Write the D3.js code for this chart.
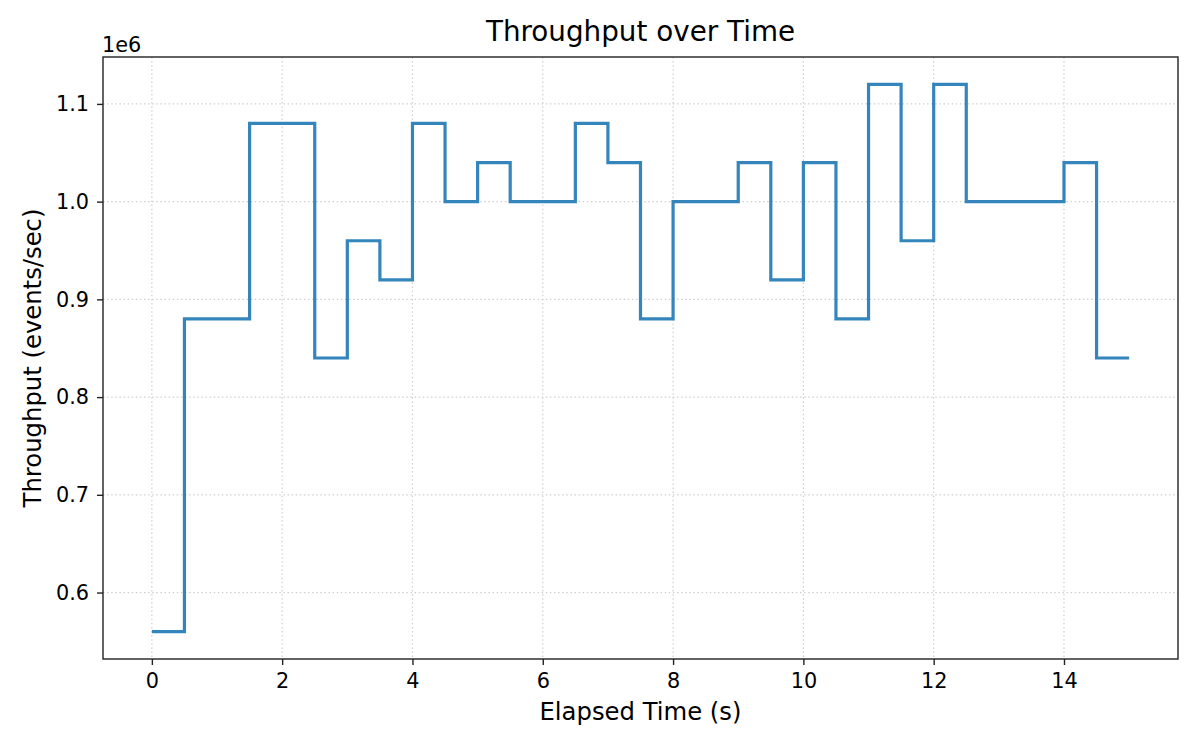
<!DOCTYPE html>
<html>
<head>
<meta charset="utf-8">
<script src="https://cdn.jsdelivr.net/npm/d3@7"></script>
<style>
  html, body { margin: 0; padding: 0; background: #fff; }
  svg text { font-family: "DejaVu Sans", sans-serif; fill: #000; }
</style>
</head>
<body>
<svg id="chart" width="1200" height="750"></svg>
<script>
// ---- data ----
const times = [0, 0.5, 1, 1.5, 2, 2.5, 3, 3.5, 4, 4.5, 5, 5.5, 6, 6.5, 7, 7.5,
               8, 8.5, 9, 9.5, 10, 10.5, 11, 11.5, 12, 12.5, 13, 13.5, 14, 14.5, 15];
const throughput = [560000, 880000, 880000, 1080000, 1080000, 840000, 960000, 920000,
                    1080000, 1000000, 1040000, 1000000, 1000000, 1080000, 1040000, 880000,
                    1000000, 1000000, 1040000, 920000, 1040000, 880000, 1120000, 960000,
                    1120000, 1000000, 1000000, 1000000, 1040000, 840000, 840000];
const xTicks = [0, 2, 4, 6, 8, 10, 12, 14];
const yTicks = [600000, 700000, 800000, 900000, 1000000, 1100000];
const titleText = "Throughput over Time";
const xLabel = "Elapsed Time (s)";
const yLabel = "Throughput (events/sec)";
const offsetText = "1e6";

// ---- layout ----
const pL = 103, pR = 1178, pT = 57, pB = 659;
const svg = d3.select("#chart");

const x = d3.scaleLinear().domain([-0.75, 15.75]).range([pL, pR]);
const y = d3.scaleLinear().domain([532000, 1148000]).range([pB, pT]);

// grid
const grid = svg.append("g");
grid.selectAll("line.gx").data(xTicks).join("line")
  .attr("x1", d => x(d)).attr("x2", d => x(d))
  .attr("y1", pT).attr("y2", pB)
  .attr("stroke", "#cfcfcf").attr("stroke-width", 1.2)
  .attr("stroke-dasharray", "1.5,2.6");
grid.selectAll("line.gy").data(yTicks).join("line")
  .attr("x1", pL).attr("x2", pR)
  .attr("y1", d => y(d)).attr("y2", d => y(d))
  .attr("stroke", "#cfcfcf").attr("stroke-width", 1.2)
  .attr("stroke-dasharray", "1.5,2.6");

// line
const pts = times.map((t, i) => [t, throughput[i]]);
const line = d3.line().x(d => x(d[0])).y(d => y(d[1])).curve(d3.curveStepAfter);
svg.append("path").datum(pts)
  .attr("d", line)
  .attr("fill", "none")
  .attr("stroke", "#3585bd")
  .attr("stroke-width", 3.2)
  .attr("stroke-linejoin", "miter")
  .attr("stroke-linecap", "butt");

// axes
const xAxis = d3.axisBottom(x).tickValues(xTicks).tickSize(6).tickPadding(8)
  .tickFormat(d3.format("d"));
const yAxis = d3.axisLeft(y).tickValues(yTicks).tickSize(6).tickPadding(8)
  .tickFormat(d => (d / 1e6).toFixed(1));

const gx = svg.append("g").attr("transform", `translate(0,${pB})`).call(xAxis);
const gy = svg.append("g").attr("transform", `translate(${pL},0)`).call(yAxis);
[gx, gy].forEach(g => {
  g.select(".domain").remove();
  g.selectAll(".tick line").attr("stroke", "#222").attr("stroke-width", 1.4);
  g.selectAll(".tick text").attr("font-size", "20.8px").attr("fill", "#000")
    .style("font-family", "'DejaVu Sans', sans-serif");
});

// spines
svg.append("rect")
  .attr("x", pL).attr("y", pT)
  .attr("width", pR - pL).attr("height", pB - pT)
  .attr("fill", "none").attr("stroke", "#222").attr("stroke-width", 1.4);

// offset text
svg.append("text").attr("x", pL - 1).attr("y", 51.5)
  .attr("font-size", "20.8px").text(offsetText);

// title
svg.append("text").attr("x", (pL + pR) / 2).attr("y", 41)
  .attr("text-anchor", "middle").attr("font-size", "27.8px").text(titleText);

// x label
svg.append("text").attr("x", (pL + pR) / 2).attr("y", 720)
  .attr("text-anchor", "middle").attr("font-size", "24.3px").text(xLabel);

// y label
svg.append("text")
  .attr("transform", `translate(41,${(pT + pB) / 2}) rotate(-90)`)
  .attr("text-anchor", "middle").attr("font-size", "24.3px").text(yLabel);
</script>
</body>
</html>
